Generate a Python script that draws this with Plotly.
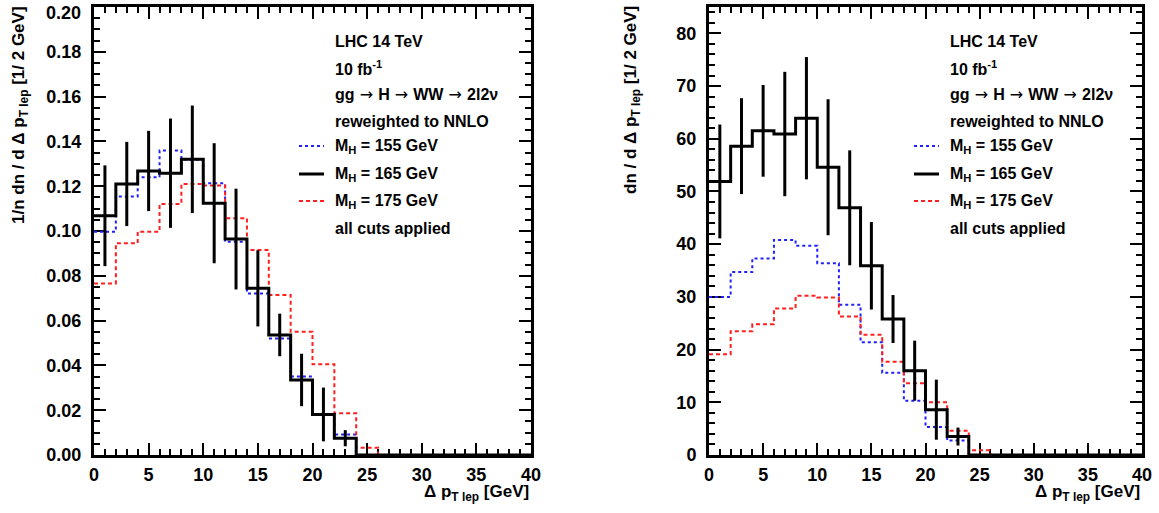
import numpy as np
import plotly.graph_objects as go

# ---------------- data ----------------
bin_width = 2.0
bin_edges = np.arange(0, 40 + bin_width, bin_width)
bin_centers = bin_edges[:-1] + bin_width / 2

# left panel: normalised 1/n dn/d(Delta pT)
norm_155 = [0.0997, 0.1154, 0.1240, 0.1359, 0.1318, 0.1213, 0.0952, 0.0721, 0.0520, 0.0350,
            0.0181, 0.0092, 0.0, 0.0, 0.0, 0.0, 0.0, 0.0, 0.0, 0.0]
norm_165 = [0.1068, 0.1210, 0.1268, 0.1258, 0.1320, 0.1124, 0.0964, 0.0744, 0.0536, 0.0335,
            0.0181, 0.0075, 0.0, 0.0, 0.0, 0.0, 0.0, 0.0, 0.0, 0.0]
norm_165_err = [0.0225, 0.0188, 0.0179, 0.0244, 0.0240, 0.0268, 0.0225, 0.0170, 0.0095, 0.0117,
                0.0120, 0.0036]
norm_175 = [0.0766, 0.0945, 0.0997, 0.1121, 0.1210, 0.1203, 0.1057, 0.0915, 0.0714, 0.0550,
            0.0405, 0.0186, 0.0032, 0.0, 0.0, 0.0, 0.0, 0.0, 0.0, 0.0]

# right panel: absolute dn/d(Delta pT) for 10 fb^-1
abs_155 = [30.0, 34.7, 37.3, 40.8, 39.7, 36.4, 28.5, 21.4, 15.6, 10.3,
           5.3, 2.75, 0.0, 0.0, 0.0, 0.0, 0.0, 0.0, 0.0, 0.0]
abs_165 = [51.9, 58.6, 61.5, 60.9, 63.9, 54.6, 46.9, 35.9, 25.8, 16.0,
           8.6, 3.5, 0.0, 0.0, 0.0, 0.0, 0.0, 0.0, 0.0, 0.0]
abs_165_err = [10.8, 9.1, 8.7, 11.8, 11.6, 12.9, 10.9, 8.3, 4.55, 5.7, 5.7, 1.7]
abs_175 = [19.1, 23.5, 24.8, 27.8, 30.2, 29.9, 26.3, 22.8, 17.7, 13.6,
           10.0, 4.6, 0.9, 0.0, 0.0, 0.0, 0.0, 0.0, 0.0, 0.0]

# tick values / labels
left_y_ticks = [0.00, 0.02, 0.04, 0.06, 0.08, 0.10, 0.12, 0.14, 0.16, 0.18]
left_y_top_label = "0.20"

ARROW = '<span style="font-family:DejaVu Sans;font-weight:normal"> → </span>'
info_lines = ["LHC 14 TeV", "10 fb<sup>-1</sup>",
              "gg" + ARROW + "H" + ARROW + "WW" + ARROW + "2l2ν", "reweighted to NNLO"]
legend_labels = ["M<sub>H</sub> = 155 GeV", "M<sub>H</sub> = 165 GeV", "M<sub>H</sub> = 175 GeV"]
footer_line = "all cuts applied"

x_title = "Δ p<sub>T lep</sub> [GeV]"
y_title_left = "1/n dn / d Δ p<sub>T lep</sub> [1/ 2 GeV]"
y_title_right = "dn / d Δ p<sub>T lep</sub> [1/ 2 GeV]"

# ---------------- style ----------------
FONT = "Liberation Sans, Arial, Helvetica, sans-serif"
W, H = 1159, 513
styles = [
    dict(color="#1f1fff", width=2, dash="dot"),   # 155
    dict(color="black", width=3, dash="solid"),   # 165
    dict(color="#ff1f1f", width=2, dash="4px,3px"),  # 175
]

fig = go.Figure()


def step(vals):
    return list(vals) + [vals[-1]]


def add_panel(xa, ya, s155, s165, s165e, s175):
    for vals, st in ((s155, styles[0]), (s175, styles[2]), (s165, styles[1])):
        fig.add_trace(go.Scatter(
            x=bin_edges, y=step(vals), mode="lines", line=dict(shape="hv", **st),
            xaxis=xa, yaxis=ya, showlegend=False, hoverinfo="skip"))
    ne = len(s165e)
    fig.add_trace(go.Scatter(
        x=bin_centers[:ne], y=s165[:ne], mode="markers",
        marker=dict(size=0.1, color="black"),
        error_y=dict(type="data", array=s165e, visible=True, color="black", thickness=3, width=0),
        xaxis=xa, yaxis=ya, showlegend=False, hoverinfo="skip"))


add_panel("x", "y", norm_155, norm_165, norm_165_err, norm_175)
add_panel("x2", "y2", abs_155, abs_165, abs_165_err, abs_175)

tickfont = dict(family=FONT, size=18, color="black", weight="bold")
common_axis = dict(
    showline=True, linewidth=3, linecolor="black", mirror="allticks",
    ticks="inside", ticklen=12, tickwidth=1.5, tickcolor="black",
    showgrid=False, zeroline=False, tickfont=tickfont, layer="below traces",
    automargin=False,
)
minor_common = dict(ticks="inside", ticklen=6, tickwidth=1.5, tickcolor="black", showgrid=False)

xdom_l = [94 / W, 531 / W]
xdom_r = [709 / W, 1142 / W]
ydom = [1 - 455 / H, 1 - 7 / H]

fig.update_layout(
    width=W, height=H, margin=dict(l=0, r=0, t=0, b=0, autoexpand=False),
    paper_bgcolor="white", plot_bgcolor="white",
    xaxis=dict(domain=xdom_l, range=[0, 40], dtick=5, anchor="y",
               minor=dict(dtick=1, **minor_common),
               ticklabelstandoff=1, **common_axis),
    yaxis=dict(domain=ydom, range=[0, 0.2], tickmode="array", tickvals=left_y_ticks,
               tickformat=".2f", anchor="x",
               minor=dict(dtick=0.005, **minor_common),
               ticklabelstandoff=6, **common_axis),
    xaxis2=dict(domain=xdom_r, range=[0, 40], dtick=5, anchor="y2",
                minor=dict(dtick=1, **minor_common),
                ticklabelstandoff=1, **common_axis),
    yaxis2=dict(domain=ydom, range=[0, 85], dtick=10, anchor="x2",
                minor=dict(dtick=2, **minor_common),
                ticklabelstandoff=6, **common_axis),
)

annfont = dict(family=FONT, size=16, color="black", weight="bold")
titlefont = dict(family=FONT, size=17, color="black", weight="bold")

# top y label of left panel, nudged inside the page like the original
fig.add_annotation(x=83 / W, y=1 - 13 / H, xref="paper", yref="paper", text=left_y_top_label,
                   showarrow=False, xanchor="right", yanchor="middle", font=tickfont)

row_y = [41, 68, 95, 121, 146, 174, 201, 228]

for x0, dom in ((94, xdom_l), (709, xdom_r)):
    text_x = (x0 + 239) / W
    lines = info_lines + legend_labels + [footer_line]
    for i, t in enumerate(lines):
        fig.add_annotation(x=text_x, y=1 - row_y[i] / H, xref="paper", yref="paper",
                           text=t, showarrow=False, xanchor="left", yanchor="middle",
                           font=annfont)
    for j, st in enumerate(styles):
        yy = 1 - row_y[4 + j] / H
        fig.add_shape(type="line", xref="paper", yref="paper",
                      x0=(x0 + 205) / W, x1=(x0 + 230) / W, y0=yy, y1=yy,
                      line=dict(color=st["color"], width=st["width"], dash=st["dash"]))
    # x-axis title
    fig.add_annotation(x=dom[1], y=1 - 493 / H, xref="paper", yref="paper",
                       text=x_title, showarrow=False, xanchor="right", yanchor="middle",
                       font=titlefont)

fig.add_annotation(x=20 / W, y=1 - 4 / H, xref="paper", yref="paper", text=y_title_left,
                   showarrow=False, textangle=-90, xanchor="center", yanchor="top",
                   font=titlefont)
fig.add_annotation(x=632 / W, y=1 - 4 / H, xref="paper", yref="paper", text=y_title_right,
                   showarrow=False, textangle=-90, xanchor="center", yanchor="top",
                   font=titlefont)

fig.write_html("out.html")
